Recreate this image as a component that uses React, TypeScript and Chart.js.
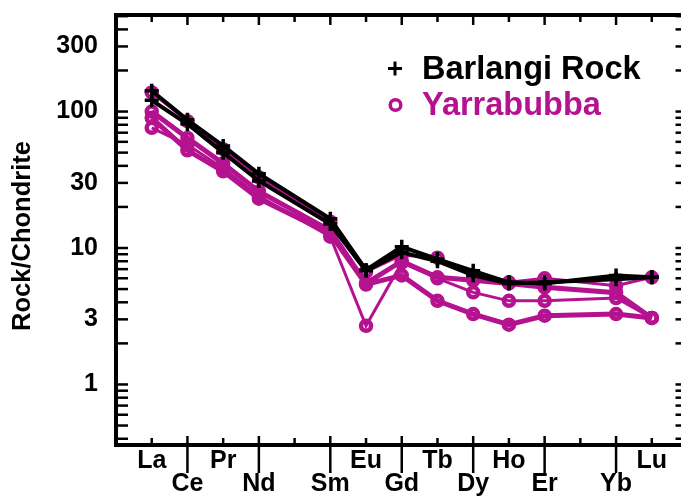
import { useEffect, useRef } from 'react';
import { Chart, registerables } from 'chart.js';

Chart.register(...registerables);

// ---- data ----
const ELEMENTS = ['La', 'Ce', 'Pr', 'Nd', 'Pm', 'Sm', 'Eu', 'Gd', 'Tb', 'Dy', 'Ho', 'Er', 'Tm', 'Yb', 'Lu'];
const HIDDEN_ELEMENTS = ['Pm', 'Tm'];
const LOWER_ROW = ['Ce', 'Nd', 'Sm', 'Gd', 'Dy', 'Er', 'Yb'];
const Y_TICKS = [1, 3, 10, 30, 100, 300];
const SERIES_NAMES = ['Barlangi Rock', 'Yarrabubba'];
const Y_TITLE = 'Rock/Chondrite';

// Barlangi Rock (black +)
const BARLANGI_1 = [142, 87, 56, 35, null, 16.4, 6.9, 10.2, 8.3, 6.8, 5.6, 5.5, null, 6.3, 6.1];
const BARLANGI_2 = [121, 81, 50, 31, null, 15.0, 6.8, 9.3, 8.0, 6.3, 5.5, 5.6, null, 5.9, 6.1];
// Yarrabubba (magenta o)
const YARRA_1 = [138, 85, 53, 33, null, 15.6, 6.7, 8.9, 8.5, 6.3, 5.6, 6.0, null, 5.3, 6.1];
const YARRA_2 = [100, 64, 41.7, 26, null, 13.4, 5.5, 8.0, 6.1, 5.8, 5.5, 5.15, null, 4.7, 3.07];
const YARRA_3 = [76, 57, 38.5, 24, null, 12.1, 2.69, 7.8, 6.0, 4.73, 4.1, 4.1, null, 4.3, 3.07];
const YARRA_4 = [90, 52, 36.5, 23, null, 12.7, 5.4, 6.3, 4.1, 3.28, 2.74, 3.19, null, 3.28, 3.07];

const BLACK = '#000000';
const MAGENTA = '#b5128f';
const FONT = '"Liberation Sans", Arial, Helvetica, sans-serif';

const toPoints = (arr: (number | null)[]) =>
  arr.map((v, i) => ({ x: i + 1, y: v })).filter((p) => p.y !== null) as { x: number; y: number }[];

const decorPlugin = {
  id: 'decor',
  beforeDatasetsDraw(chart: any) {
    const { ctx, chartArea: a, scales } = chart;
    const xs = scales.x;
    const ys = scales.y;
    const line = (x1: number, y1: number, x2: number, y2: number) => {
      ctx.beginPath();
      ctx.moveTo(x1, y1);
      ctx.lineTo(x2, y2);
      ctx.stroke();
    };
    ctx.save();
    ctx.strokeStyle = BLACK;
    ctx.lineWidth = 2.5;
    for (let e = -1; e <= 2; e++) {
      for (let m = 1; m <= 9; m++) {
        const v = m * Math.pow(10, e);
        if (v < ys.min || v > ys.max) continue;
        const py = ys.getPixelForValue(v);
        line(a.left, py, a.left + 12, py);
        line(a.right, py, a.right - 12, py);
      }
    }
    ELEMENTS.forEach((el, i) => {
      const px = xs.getPixelForValue(i + 1);
      const low = LOWER_ROW.includes(el);
      line(px, a.top, px, a.top + (low ? 10 : 7));
      if (low) line(px, a.bottom - 9, px, a.bottom + 28);
      else line(px, a.bottom - 7, px, a.bottom);
    });
    ctx.lineWidth = 4;
    ctx.strokeRect(a.left, a.top, a.right - a.left, a.bottom - a.top);
    ctx.restore();
  },
  afterDraw(chart: any) {
    const { ctx } = chart;
    ctx.save();
    ctx.translate(23, 236);
    ctx.rotate(-Math.PI / 2);
    ctx.font = `bold 25.5px ${FONT}`;
    ctx.fillStyle = BLACK;
    ctx.textAlign = 'center';
    ctx.textBaseline = 'middle';
    ctx.fillText(Y_TITLE, 0, 0);
    ctx.restore();

    ctx.save();
    ctx.font = `bold 32.5px ${FONT}`;
    ctx.textAlign = 'left';
    ctx.textBaseline = 'alphabetic';
    ctx.fillStyle = BLACK;
    ctx.fillText(SERIES_NAMES[0], 422, 79);
    ctx.strokeStyle = BLACK;
    ctx.lineWidth = 3;
    ctx.beginPath();
    ctx.moveTo(388, 68.5);
    ctx.lineTo(402, 68.5);
    ctx.moveTo(395, 61.5);
    ctx.lineTo(395, 75.5);
    ctx.stroke();
    ctx.fillStyle = MAGENTA;
    ctx.fillText(SERIES_NAMES[1], 422, 115);
    ctx.strokeStyle = MAGENTA;
    ctx.lineWidth = 3.5;
    ctx.beginPath();
    ctx.arc(395.5, 105, 5.3, 0, Math.PI * 2);
    ctx.stroke();
    ctx.restore();
  },
};

export default function App() {
  const ref = useRef<HTMLCanvasElement | null>(null);
  useEffect(() => {
    document.body.style.margin = '0';
    if (!ref.current) return;
    const blackDs = (d: (number | null)[]) => ({
      data: toPoints(d),
      borderColor: BLACK,
      backgroundColor: BLACK,
      borderWidth: 4,
      pointStyle: 'cross' as const,
      pointRadius: 7,
      pointBorderWidth: 3.5,
      pointBorderColor: BLACK,
    });
    const magDs = (d: (number | null)[], w: number) => ({
      data: toPoints(d),
      borderColor: MAGENTA,
      backgroundColor: 'rgba(0,0,0,0)',
      borderWidth: w,
      pointStyle: 'circle' as const,
      pointRadius: 5,
      pointBorderWidth: 4.5,
      pointBorderColor: MAGENTA,
      pointBackgroundColor: 'rgba(0,0,0,0)',
    });
    const chart = new Chart(ref.current, {
      type: 'line',
      data: {
        datasets: [
          blackDs(BARLANGI_1),
          blackDs(BARLANGI_2),
          magDs(YARRA_1, 3),
          magDs(YARRA_2, 5),
          magDs(YARRA_3, 3),
          magDs(YARRA_4, 5),
        ] as any,
      },
      options: {
        animation: false,
        responsive: false,
        devicePixelRatio: 1,
        layout: { padding: { left: 0, right: 4, top: 15, bottom: 0 } },
        plugins: { legend: { display: false }, tooltip: { enabled: false } },
        elements: { line: { tension: 0 } },
        scales: {
          x: {
            type: 'linear',
            min: 0,
            max: 16,
            grid: { display: false, drawTicks: true, tickLength: 5 },
            border: { display: false },
            afterBuildTicks: (s: any) => {
              s.ticks = ELEMENTS.map((_, i) => ({ value: i + 1 }));
            },
            afterFit: (s: any) => {
              s.height = 51;
            },
            ticks: {
              autoSkip: false,
              maxRotation: 0,
              minRotation: 0,
              padding: 0,
              color: BLACK,
              font: { family: FONT, size: 25, weight: 'bold', lineHeight: 0.92 },
              callback: (_v: any, i: number) => {
                const el = ELEMENTS[i];
                if (HIDDEN_ELEMENTS.includes(el)) return '';
                return LOWER_ROW.includes(el) ? ['', el] : [el, ''];
              },
            },
          },
          y: {
            type: 'logarithmic',
            min: 0.36,
            max: 510,
            grid: { display: false, drawTicks: true, tickLength: 18 },
            border: { display: false },
            afterBuildTicks: (s: any) => {
              s.ticks = Y_TICKS.map((v) => ({ value: v }));
            },
            afterFit: (s: any) => {
              s.width = 116;
            },
            ticks: {
              padding: 0,
              color: BLACK,
              font: { family: FONT, size: 25, weight: 'bold', lineHeight: 1 },
              callback: (v: any) => String(v),
            },
          },
        },
      } as any,
      plugins: [decorPlugin],
    });
    return () => chart.destroy();
  }, []);
  return (
    <div style={{ width: 681, height: 496, overflow: 'hidden', background: '#fff' }}>
      <canvas ref={ref} width={698} height={496} style={{ width: 698, height: 496, display: 'block' }} />
    </div>
  );
}
